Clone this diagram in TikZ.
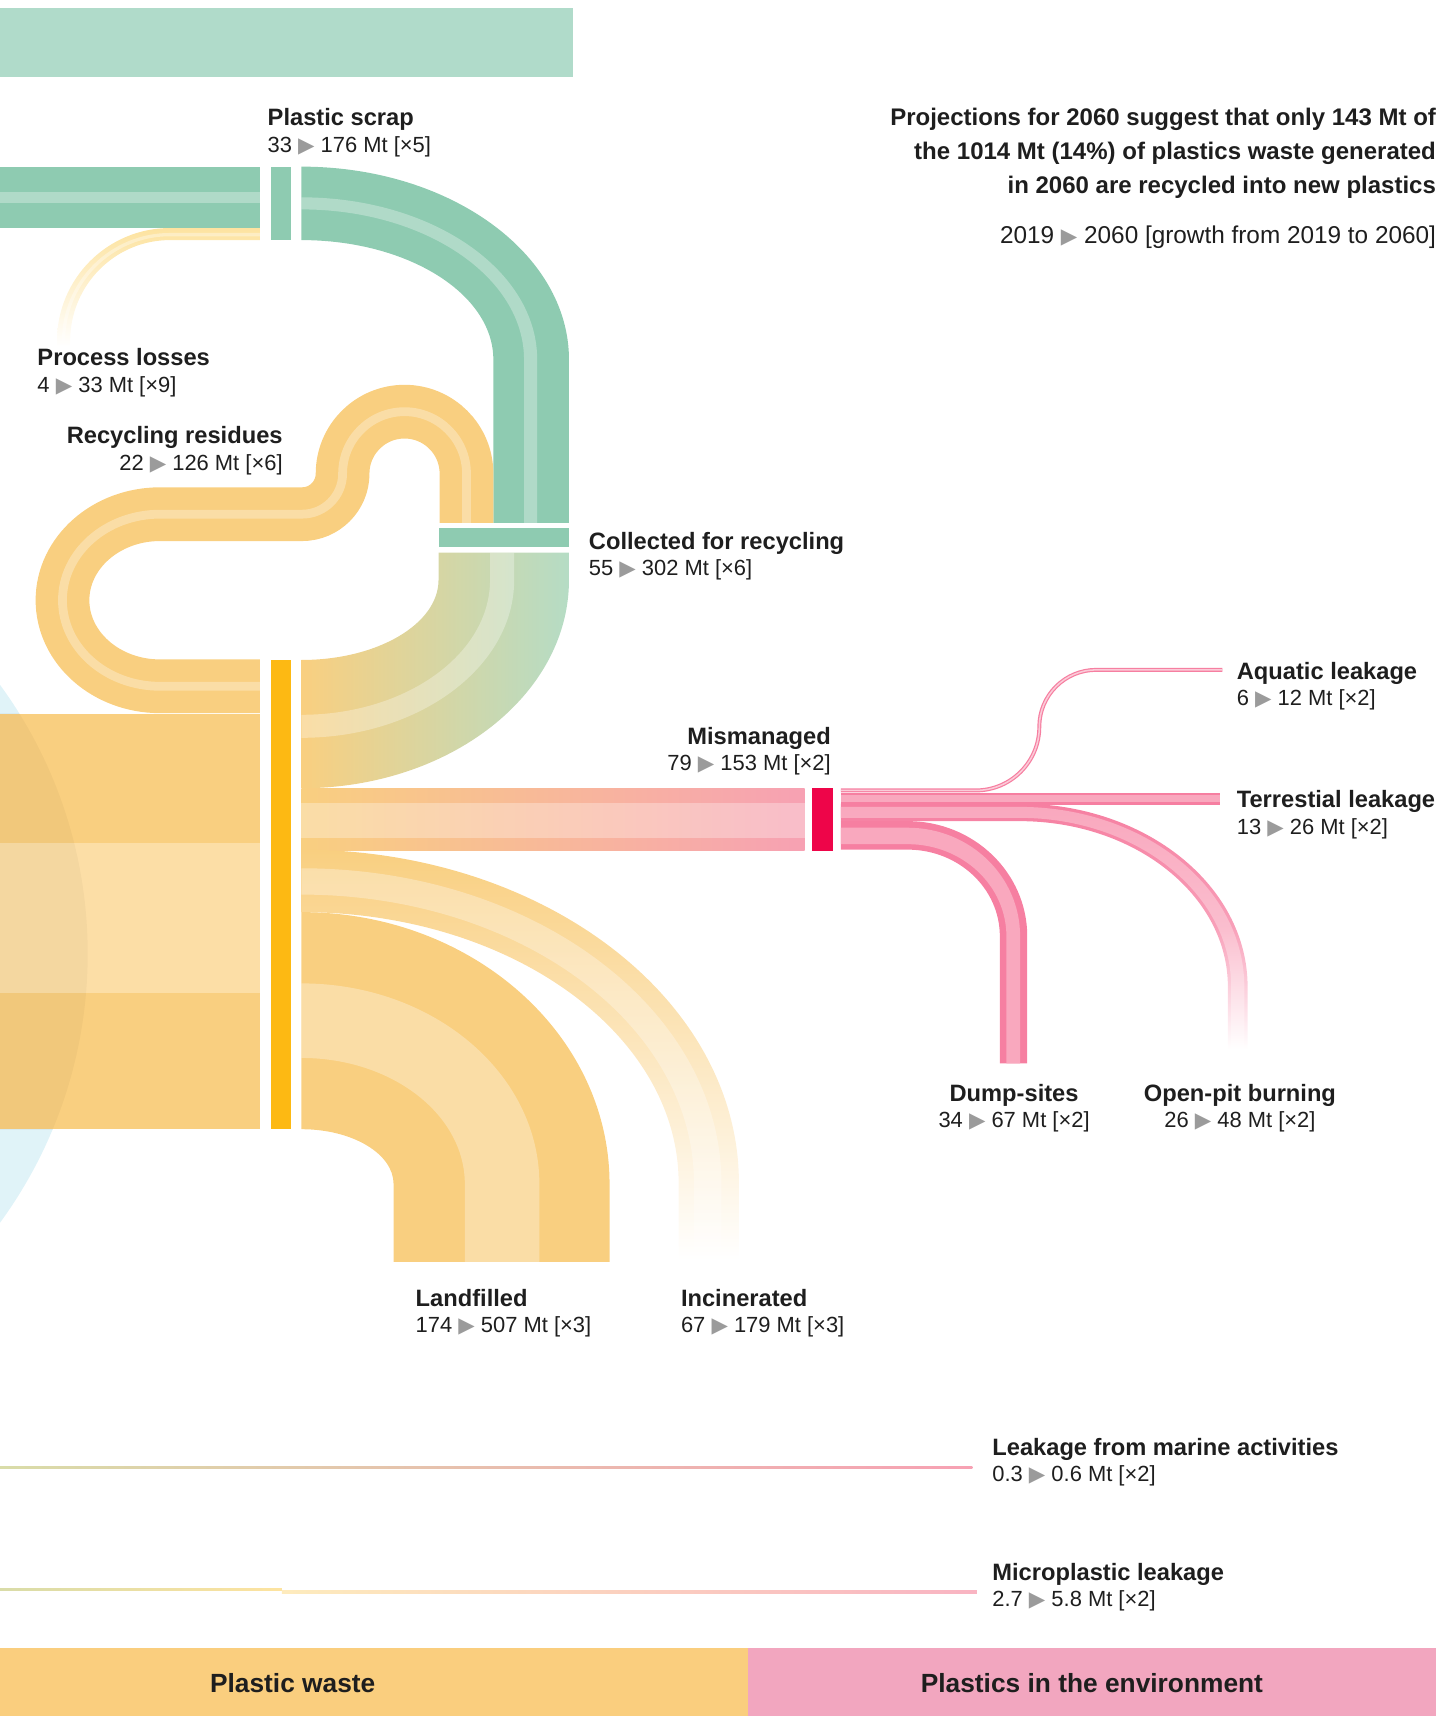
\documentclass[tikz,border=0pt]{standalone}
\usepackage{fontspec}
\setmainfont{Liberation Sans}
\newfontfamily\trifont{DejaVu Sans}
\usetikzlibrary{positioning}
\definecolor{greenlt}{HTML}{B0DBCA}
\definecolor{greendk}{HTML}{8ECBB1}
\definecolor{greenfade}{HTML}{B5DCC5}
\definecolor{yel}{HTML}{F9CF80}
\definecolor{yellt}{HTML}{FCDEA6}
\definecolor{yelpale}{HTML}{FDE3A0}
\definecolor{yelbar}{HTML}{FDB913}
\definecolor{olivelt}{HTML}{D9DCA8}
\definecolor{pinkm}{HTML}{F7A1B3}
\definecolor{pinkd}{HTML}{F67FA1}
\definecolor{pinkl}{HTML}{F9A8BE}
\definecolor{redbar}{HTML}{EE0549}
\definecolor{bluelt}{HTML}{E0F3F8}
\definecolor{wastebar}{HTML}{FACE7E}
\definecolor{envbar}{HTML}{F2A6BF}
\definecolor{arrowgray}{HTML}{9B9B9B}
\definecolor{ink}{HTML}{1E1E1E}
\newcommand{\tri}{{\color{arrowgray}\trifont\fontsize{19.5}{19.5}\selectfont ▶}}
% quarter band between two elliptic arcs: cx cy outer-a outer-b inner-a inner-b from to
\newcommand{\qband}[8]{(#1,#2) ++(#7:#3 and #4) arc[start angle=#7,end angle=#8,x radius=#3,y radius=#4] -- ([shift={(#1,#2)}]#8:#5 and #6) arc[start angle=#8,end angle=#7,x radius=#5,y radius=#6] -- cycle}

\begin{document}
\begin{tikzpicture}[x=1pt,y=-1pt,
  bar/.style={inner sep=0pt,minimum width=18pt},
  lab/.style={inner sep=0pt,text=ink,font=\fontsize{21.6}{24}\selectfont\bfseries,text height=16pt,text depth=5pt},
  num/.style={inner sep=0pt,text=ink,font=\fontsize{20}{24}\selectfont,text height=15pt,text depth=5pt},
  stripe/.style={white,opacity=0.3}]
  \useasboundingbox (0,0) rectangle (1325,1568);
  \fill[greenlt] (0,7) rectangle (523,70);
  \fill[bluelt] (-336,870) circle[radius=416];

  % plastic scrap
  \fill[greendk] (0,152) rectangle (237,208);
  \fill[stripe] (0,175) rectangle (237,185);
  \shade[top color=yelpale,bottom color=white] \qband{155}{311}{103}{103}{91}{92}{-90}{-180} (155,208) rectangle (237,219) (52,311) rectangle (64,316);
  \fill[white,opacity=0.35] \qband{155}{311}{98.5}{98.5}{95.5}{95.5}{-90}{-180} (155,212.5) rectangle (237,215.5);
  \fill[greendk] \qband{275}{328}{244}{176}{175}{109}{-90}{0} (450,328) rectangle (519,477);
  \fill[stripe] \qband{275}{328}{215}{148}{203}{137}{-90}{0} (478,328) rectangle (490,477);

  % recycling residues
  \draw[yel,line width=49pt,postaction={draw,white,opacity=0.3,line width=8pt}] (425.5,477) -- (425.5,432)
    arc[start angle=0,end angle=-180,radius=56.5] arc[start angle=0,end angle=90,radius=37] -- (146,469)
    arc[start angle=-90,end angle=-270,x radius=89,y radius=78.5] -- (237,626);

  % collected -> waste
  \shade[left color=yel,middle color=yel!80!greenfade,right color=greenfade] \qband{275}{529}{244}{190}{125}{73}{0}{90} (400,504) rectangle (519,529);
  \fill[stripe] \qband{275}{529}{194}{144}{172}{123}{0}{90} (447,504) rectangle (469,529);

  % waste in
  \fill[yel] (0,651) rectangle (237,1030);
  \fill[yellt] (0,769) rectangle (237,906);
  \begin{scope}
    \clip (0,651) rectangle (237,1030);
    \fill[black,opacity=0.03] (-336,870) circle[radius=416];
  \end{scope}

  % waste out
  \shade[left color=yel,middle color=yel!65!pinkm,right color=pinkm] (275,719) rectangle (734,776);
  \fill[stripe] (275,732) rectangle (734,764);
  \shade[top color=yel,bottom color=white,middle color=yel!50!white] \qband{275}{1079}{399}{304}{344}{247}{-90}{0} (619,1079) rectangle (674,1149);
  \fill[stripe] \qband{275}{1079}{383}{287}{358}{263}{-90}{0} (633,1079) rectangle (658,1149);
  \fill[yel] \qband{275}{1080}{281}{248}{84}{50}{-90}{0} (359,1080) rectangle (556,1151);
  \fill[stripe] \qband{275}{1080}{217}{183}{149}{115}{-90}{0} (424,1080) rectangle (492,1151);

  % mismanaged out
  \draw[pinkd,line width=3.6pt,postaction={draw,pinkl!60!white,line width=1.4pt}] (767,721) -- (890,721)
    arc[start angle=90,end angle=0,radius=58] arc[start angle=180,end angle=270,radius=52] -- (1115,611);
  \fill[pinkd] (767,723) rectangle (1113,734);
  \fill[pinkl] (767,725) rectangle (1113,731.5);
  \shade[top color=pinkd,bottom color=white,middle color=pinkd!75!white] \qband{930}{900}{208}{167}{190}{151}{-90}{0} (767,733) rectangle (930,749) (1120,900) rectangle (1138,957);
  \shade[top color=pinkl,bottom color=white,middle color=pinkl!75!white] \qband{930}{900}{205}{164}{193}{154}{-90}{0} (767,736) rectangle (930,746) (1123,900) rectangle (1135,957);
  \fill[pinkd] \qband{828}{854}{109}{105}{84}{79}{-90}{0} (767,749) rectangle (828,775) (912,854) rectangle (937,970);
  \fill[pinkl] \qband{828}{854}{102.5}{99}{90}{84}{-90}{0} (767,755) rectangle (828,770) (918,854) rectangle (930.5,970);

  % small leakages
  \shade[left color=olivelt,middle color=yelpale,right color=pinkm] (0,1337.5) rectangle (887,1339.4);
  \shade[left color=olivelt,right color=yelpale] (0,1448.8) rectangle (257,1451.2);
  \shade[left color=yelpale!70!white,right color=pinkm!80!white] (257,1451) rectangle (891,1453.5);

  % nodes
  \node[bar,fill=greendk,minimum height=67pt] (scrap) at (256,185.5) {};
  \node[bar,fill=greendk,minimum width=119pt,minimum height=17pt] (collected) at (459.5,490.5) {};
  \node[bar,fill=yelbar,minimum height=428pt] (waste) at (256,816) {};
  \node[bar,fill=redbar,minimum width=19pt,minimum height=57pt] (mism) at (750.5,747.5) {};

  % labels
  \node[lab,anchor=base west] (scrapl) at (244,114.8) {Plastic scrap};
  \node[num,below right=3.6pt and 0pt of scrapl.south west] {33 \tri{} 176 Mt [×5]};
  \node[lab,anchor=base west] (lossl) at (34,333.8) {Process losses};
  \node[num,below right=3.6pt and 0pt of lossl.south west] {4 \tri{} 33 Mt [×9]};
  \node[lab,anchor=base east] (residl) at (258,404.8) {Recycling residues};
  \node[num,below left=3.6pt and 0pt of residl.south east] {22 \tri{} 126 Mt [×6]};
  \node[lab,anchor=base west] (collectl) at (537,500.8) {Collected for recycling};
  \node[num,below right=3.6pt and 0pt of collectl.south west] {55 \tri{} 302 Mt [×6]};
  \node[lab,anchor=base east] (misml) at (758,678.8) {Mismanaged};
  \node[num,below left=3.6pt and 0pt of misml.south east] {79 \tri{} 153 Mt [×2]};
  \node[lab,anchor=base west] (aquatl) at (1128,619.8) {Aquatic leakage};
  \node[num,below right=3.6pt and 0pt of aquatl.south west] {6 \tri{} 12 Mt [×2]};
  \node[lab,anchor=base west] (terrl) at (1128,736.8) {Terrestial leakage};
  \node[num,below right=3.6pt and 0pt of terrl.south west] {13 \tri{} 26 Mt [×2]};
  \node[lab,anchor=base] (dumpl) at (925,1004.8) {Dump-sites};
  \node[num,below=3.6pt of dumpl.south] {34 \tri{} 67 Mt [×2]};
  \node[lab,anchor=base] (burnl) at (1131,1004.8) {Open-pit burning};
  \node[num,below=3.6pt of burnl.south] {26 \tri{} 48 Mt [×2]};
  \node[lab,anchor=base west] (landl) at (379,1191.8) {Landfilled};
  \node[num,below right=3.6pt and 0pt of landl.south west] {174 \tri{} 507 Mt [×3]};
  \node[lab,anchor=base west] (incinl) at (621,1191.8) {Incinerated};
  \node[num,below right=3.6pt and 0pt of incinl.south west] {67 \tri{} 179 Mt [×3]};
  \node[lab,anchor=base west] (marinel) at (905,1327.8) {Leakage from marine activities};
  \node[num,below right=3.6pt and 0pt of marinel.south west] {0.3 \tri{} 0.6 Mt [×2]};
  \node[lab,anchor=base west] (microl) at (905,1441.8) {Microplastic leakage};
  \node[num,below right=3.6pt and 0pt of microl.south west] {2.7 \tri{} 5.8 Mt [×2]};

  % heading
  \node[lab,font=\fontsize{21.9}{24}\selectfont\bfseries,anchor=base east] (proj1) at (1310,114.8) {Projections for 2060 suggest that only 143 Mt of};
  \node[lab,font=\fontsize{21.9}{24}\selectfont\bfseries,below left=9.5pt and 0pt of proj1.south east] (proj2) {the 1014 Mt (14\%) of plastics waste generated};
  \node[lab,font=\fontsize{21.9}{24}\selectfont\bfseries,below left=9.5pt and 0pt of proj2.south east] (proj3) {in 2060 are recycled into new plastics};
  \node[num,font=\fontsize{22.2}{24}\selectfont,below left=25pt and 0pt of proj3.south east] (legend) {2019 \tri{} 2060 [growth from 2019 to 2060]};

  % bottom bars
  \fill[wastebar] (0,1503) rectangle (682,1565);
  \fill[envbar] (682,1503) rectangle (1310,1565);
  \node[text=ink,font=\fontsize{24}{24}\selectfont\bfseries] (wastel) at (267,1535) {Plastic waste};
  \node[text=ink,font=\fontsize{24}{24}\selectfont\bfseries] (envl) at (996,1535) {Plastics in the environment};
\end{tikzpicture}
\end{document}
